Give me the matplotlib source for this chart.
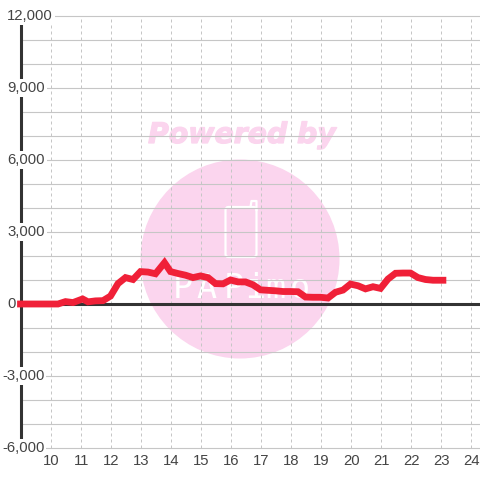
from matplotlib import pyplot as plt, patheffects
from matplotlib.patches import Circle, FancyBboxPatch

hours = [9, 10, 10.25, 10.5, 10.75, 11.07, 11.25, 11.5, 11.75, 12, 12.25, 12.5, 12.75,
         13, 13.25, 13.5, 13.8, 14, 14.25, 14.5, 14.75, 15, 15.25, 15.5, 15.75, 16,
         16.25, 16.5, 16.75, 17, 17.25, 17.5, 17.75, 18, 18.25, 18.5, 18.75, 19, 19.25,
         19.5, 19.75, 20, 20.25, 20.5, 20.75, 21, 21.25, 21.5, 21.75, 22, 22.25, 22.5,
         22.75, 23, 23.08]
values = [0, 0, 0, 100, 60, 210, 90, 130, 140, 330, 850, 1100, 1020,
          1350, 1330, 1260, 1720, 1350, 1270, 1200, 1100, 1170, 1100, 850, 840, 1000,
          920, 920, 800, 590, 570, 550, 520, 520, 510, 290, 280, 280, 250,
          490, 580, 830, 760, 630, 720, 650, 1040, 1280, 1290, 1290, 1100, 1020,
          990, 990, 990]

x_ticks = list(range(10, 25))
y_ticks = [12000, 9000, 6000, 3000, 0, -3000, -6000]
y_grid = list(range(-6000, 13000, 1000))

plt.rcParams["font.family"] = ["Liberation Sans", "DejaVu Sans"]

fig = plt.figure(figsize=(4.8, 4.8), dpi=100)

# watermark goes on its own axes in pixel units
bg = fig.add_axes([0, 0, 1, 1])
bg.set_xlim(0, 480)
bg.set_ylim(480, 0)
bg.axis("off")
pink = "#fbd5ee"
bg.add_patch(Circle((240, 259), 99.5, color=pink, lw=0))
bg.text(242, 135, "Powered by", color=pink, fontsize=20.4, fontweight="bold", style="italic",
        family="DejaVu Sans", ha="center", va="center",
        path_effects=[patheffects.withStroke(linewidth=0.9, foreground=pink)])
bg.add_patch(FancyBboxPatch((225.5, 207), 31, 50, boxstyle="round,pad=0,rounding_size=3",
                            fc="none", ec="white", lw=1.6))
bg.plot([250.5, 251.5, 256.5, 256.5], [207, 201, 201, 210], color="white", lw=1.6)
for px, letter in zip([183, 206, 234, 255, 275, 300], "PAPimo"):
    bg.text(px, 289, letter, color="white", fontsize=24,
            family="DejaVu Sans Mono", ha="center", va="center")

ax = fig.add_axes([0, 0, 1, 1])
ax.patch.set_alpha(0)
ax.set_xlim(9 - 20.5 / 30, 9 - 20.5 / 30 + 16)
ax.set_ylim(12000 + 16 / 0.024 - 20000, 12000 + 16 / 0.024)
for s in ax.spines.values():
    s.set_visible(False)
ax.set_xticks([])
ax.set_yticks([])

gray = "#c6c6c6"
for g in y_grid:
    ax.plot([9, 24.4], [g, g], color=gray, lw=0.8, zorder=1)
for h in x_ticks:
    ax.plot([h, h], [-6000, 12000], color=gray, lw=0.72, dashes=(3, 3), zorder=1)

ax.plot([9, 9], [-6000, 12000], color="#333333", lw=2.2, zorder=2)
ax.plot([9, 24.4], [0, 0], color="#333333", lw=2.2, zorder=2)
ax.plot(hours, values, color="#f02038", lw=4.9, solid_capstyle="projecting",
        solid_joinstyle="miter", zorder=3)

for h in x_ticks:
    ax.text(h + 0.02, -6000 - 13 / 0.024, str(h), color="#444444", fontsize=10.7,
            ha="center", va="center", zorder=5)
for v in y_ticks:
    left = 8.38 if v < 0 else 8.55
    ax.text(left, v, f"{v:,}", color="#444444", fontsize=10.7, ha="left", va="center", zorder=4,
            bbox=dict(fc="white", ec="none", pad=1.5) if v != 0 else None)

fig.savefig("out.png", dpi=100)
